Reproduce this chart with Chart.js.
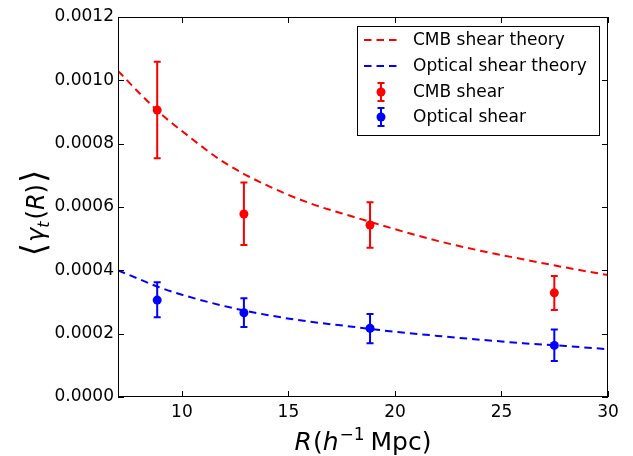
<!DOCTYPE html>
<html>
<head>
<meta charset="utf-8">
<script src="https://cdn.jsdelivr.net/npm/chart.js@4"></script>
<style>
  html, body { margin: 0; padding: 0; background: #fff; }
  #wrap { width: 633px; height: 456px; }
</style>
</head>
<body>
<div id="wrap"><canvas id="shearChart"></canvas></div>
<script>
// theory curves
const theoryR = [7, 8, 9, 10, 12, 14, 16, 18, 20, 22, 24, 26, 28, 30];
const cmbTheory = [0.00103, 0.00096, 0.000895, 0.00084, 0.00074, 0.000668, 0.000612, 0.00057, 0.00053, 0.000493, 0.000462, 0.000435, 0.000409, 0.000385];
const opticalTheory = [0.0004, 0.000372, 0.000345, 0.000323, 0.000287, 0.000259, 0.000238, 0.000222, 0.000206, 0.000193, 0.000181, 0.00017, 0.000161, 0.000151];

// measured points with error bars
const obsR = [8.84, 12.91, 18.83, 27.48];
const cmbShear = [0.000906, 0.000578, 0.000543, 0.000329];
const cmbLow = [0.000754, 0.00048, 0.000471, 0.000275];
const cmbHigh = [0.001059, 0.000677, 0.000615, 0.000382];
const opticalShear = [0.000306, 0.000266, 0.000217, 0.000163];
const opticalLow = [0.000252, 0.000221, 0.00017, 0.000114];
const opticalHigh = [0.000362, 0.000312, 0.000262, 0.000213];

const xTicks = [10, 15, 20, 25, 30];
const yTicks = [0, 0.0002, 0.0004, 0.0006, 0.0008, 0.0010, 0.0012];

const FONT = "DejaVu Sans";
const RED = "#ff0000";
const BLUE = "#0000ff";
const DASH = [7.5, 5];

function toPoints(xs, ys) {
    return xs.map((x, i) => ({ x: x, y: ys[i] }));
}

// draw a run of text pieces (mixed italic / superscript) centred on cx
function drawPieces(ctx, pieces, cx, baseY) {
    let total = 0;
    pieces.forEach(p => { ctx.font = p.font; p.w = ctx.measureText(p.t).width; total += p.w + (p.gap || 0); });
    let x = cx - total / 2;
    ctx.textAlign = "left";
    ctx.textBaseline = "alphabetic";
    pieces.forEach(p => {
        ctx.font = p.font;
        ctx.fillText(p.t, x, baseY + (p.dy || 0));
        x += p.w + (p.gap || 0);
    });
}

const errorBars = {
    id: "errorBars",
    beforeDatasetsDraw(chart) {
        const ctx = chart.ctx, xs = chart.scales.x, ys = chart.scales.y;
        chart.data.datasets.forEach(ds => {
            if (!ds.errLow) return;
            ctx.save();
            ctx.strokeStyle = ds.backgroundColor;
            ctx.lineWidth = 2;
            ds.data.forEach((pt, i) => {
                const px = xs.getPixelForValue(pt.x);
                const y1 = ys.getPixelForValue(ds.errLow[i]);
                const y2 = ys.getPixelForValue(ds.errHigh[i]);
                ctx.beginPath();
                ctx.moveTo(px, y1); ctx.lineTo(px, y2);
                ctx.moveTo(px - 3.5, y1); ctx.lineTo(px + 3.5, y1);
                ctx.moveTo(px - 3.5, y2); ctx.lineTo(px + 3.5, y2);
                ctx.stroke();
            });
            ctx.restore();
        });
    }
};

const frameAndLabels = {
    id: "frameAndLabels",
    afterDraw(chart) {
        const ctx = chart.ctx, a = chart.chartArea;
        const xs = chart.scales.x, ys = chart.scales.y;
        ctx.save();
        // frame
        ctx.strokeStyle = "#000";
        ctx.lineWidth = 1;
        ctx.strokeRect(Math.round(a.left) + 0.5, Math.round(a.top) + 0.5,
                       Math.round(a.right - a.left) - 1, Math.round(a.bottom - a.top) - 1);
        // inward ticks on all four sides
        ctx.beginPath();
        xTicks.forEach(v => {
            const px = Math.round(xs.getPixelForValue(v)) + 0.5;
            ctx.moveTo(px, a.bottom); ctx.lineTo(px, a.bottom - 6);
            ctx.moveTo(px, a.top); ctx.lineTo(px, a.top + 6);
        });
        yTicks.forEach(v => {
            const py = Math.round(ys.getPixelForValue(v)) + 0.5;
            ctx.moveTo(a.left, py); ctx.lineTo(a.left + 6, py);
            ctx.moveTo(a.right, py); ctx.lineTo(a.right - 6, py);
        });
        ctx.stroke();

        // axis titles
        ctx.fillStyle = "#000";
        const big = "25px '" + FONT + "'";
        const bigIt = "italic 25px '" + FONT + "'";
        const small = "17px '" + FONT + "'";
        drawPieces(ctx, [
            { t: "R", font: bigIt, gap: 1 },
            { t: "(", font: big },
            { t: "h", font: bigIt, gap: 1 },
            { t: "\u22121", font: small, dy: -10, gap: 6 },
            { t: "Mpc)", font: big }
        ], (a.left + a.right) / 2, 450);

        ctx.save();
        ctx.translate(44, (a.top + a.bottom) / 2 + 6);
        ctx.rotate(-Math.PI / 2);
        drawPieces(ctx, [
            { t: "\u27E8", font: "34px '" + FONT + "'", dy: 1, gap: 1 },
            { t: "\u03B3", font: "italic 24px '" + FONT + "'" },
            { t: "t", font: "italic 16px '" + FONT + "'", dy: 5, gap: 2 },
            { t: "(", font: "24px '" + FONT + "'" },
            { t: "R", font: "italic 24px '" + FONT + "'" },
            { t: ")", font: "24px '" + FONT + "'", gap: 1 },
            { t: "\u27E9", font: "34px '" + FONT + "'", dy: 1 }
        ], 0, 0);
        ctx.restore();

        // legend box, top right inside the plot
        const lx = 357, ly = 26, lw = 242, lh = 109;
        ctx.fillStyle = "#fff";
        ctx.fillRect(lx, ly, lw, lh);
        ctx.strokeStyle = "#000";
        ctx.lineWidth = 1;
        ctx.strokeRect(lx + 0.5, ly + 0.5, lw, lh);

        const rows = [40, 66, 92, 117];
        chart.data.datasets.forEach((ds, i) => {
            const ry = rows[i];
            ctx.save();
            if (ds.errLow) {
                ctx.strokeStyle = ds.backgroundColor;
                ctx.fillStyle = ds.backgroundColor;
                ctx.lineWidth = 2;
                ctx.beginPath();
                ctx.moveTo(381, ry - 9); ctx.lineTo(381, ry + 9);
                ctx.moveTo(377.5, ry - 9); ctx.lineTo(384.5, ry - 9);
                ctx.moveTo(377.5, ry + 9); ctx.lineTo(384.5, ry + 9);
                ctx.stroke();
                ctx.beginPath();
                ctx.arc(381, ry, 4.5, 0, Math.PI * 2);
                ctx.fill();
            } else {
                ctx.strokeStyle = ds.borderColor;
                ctx.lineWidth = 2;
                ctx.setLineDash(ds.borderDash);
                ctx.beginPath();
                ctx.moveTo(364, ry); ctx.lineTo(399, ry);
                ctx.stroke();
            }
            ctx.restore();
            ctx.fillStyle = "#000";
            ctx.font = "17px '" + FONT + "'";
            ctx.textAlign = "left";
            ctx.textBaseline = "middle";
            ctx.fillText(ds.label, 413, ry + 1);
        });
        ctx.restore();
    }
};

new Chart(document.getElementById("shearChart"), {
    type: "scatter",
    data: {
        datasets: [
            {
                label: "CMB shear theory",
                type: "line",
                data: toPoints(theoryR, cmbTheory),
                borderColor: RED,
                borderWidth: 2,
                borderDash: DASH,
                pointRadius: 0,
                cubicInterpolationMode: "monotone",
                fill: false,
                order: 2
            },
            {
                label: "Optical shear theory",
                type: "line",
                data: toPoints(theoryR, opticalTheory),
                borderColor: BLUE,
                borderWidth: 2,
                borderDash: DASH,
                pointRadius: 0,
                cubicInterpolationMode: "monotone",
                fill: false,
                order: 2
            },
            {
                label: "CMB shear",
                data: toPoints(obsR, cmbShear),
                errLow: cmbLow,
                errHigh: cmbHigh,
                backgroundColor: RED,
                borderColor: RED,
                pointRadius: 4.5,
                pointBorderWidth: 0,
                order: 1
            },
            {
                label: "Optical shear",
                data: toPoints(obsR, opticalShear),
                errLow: opticalLow,
                errHigh: opticalHigh,
                backgroundColor: BLUE,
                borderColor: BLUE,
                pointRadius: 4.5,
                pointBorderWidth: 0,
                order: 1
            }
        ]
    },
    options: {
        responsive: true,
        maintainAspectRatio: false,
        animation: false,
        layout: { padding: { left: 0, right: 25, top: 17, bottom: 0 } },
        plugins: {
            legend: { display: false },
            tooltip: { enabled: false }
        },
        scales: {
            x: {
                type: "linear",
                min: 7,
                max: 30,
                grid: { display: false, drawTicks: false },
                border: { display: false },
                afterBuildTicks: s => { s.ticks = xTicks.map(v => ({ value: v })); },
                afterFit: s => { s.height = 59; },
                ticks: {
                    color: "#000",
                    padding: 5,
                    maxRotation: 0,
                    font: { family: FONT, size: 17 },
                    callback: v => String(v)
                }
            },
            y: {
                type: "linear",
                min: 0,
                max: 0.0012,
                grid: { display: false, drawTicks: false },
                border: { display: false },
                afterBuildTicks: s => { s.ticks = yTicks.map(v => ({ value: v })); },
                afterFit: s => { s.width = 118; },
                ticks: {
                    color: "#000",
                    padding: 4,
                    font: { family: FONT, size: 17 },
                    callback: v => v.toFixed(4)
                }
            }
        }
    },
    plugins: [errorBars, frameAndLabels]
});
</script>
</body>
</html>
